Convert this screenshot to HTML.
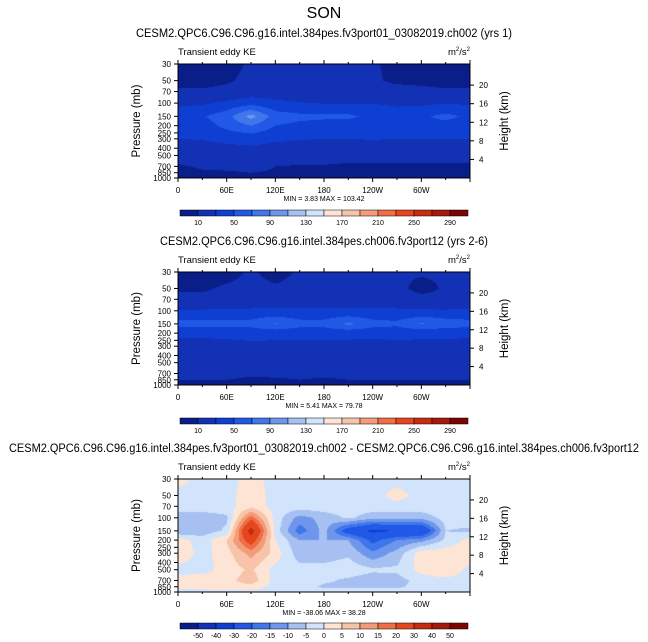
<!DOCTYPE html>
<html><head><meta charset="utf-8">
<style>
body{margin:0;background:#fff;width:648px;height:642px;overflow:hidden;font-family:"Liberation Sans",sans-serif}
svg{position:absolute;left:0;top:0}
</style></head>
<body>
<svg id="s" width="648" height="642"></svg>
<script>
const lons=[0,30,60,90,120,150,180,210,240,270,300,330,360];
const pres=[30,50,70,100,150,200,300,500,700,850,1000];
const keLevels=[10,30,50,70,90,110,130,150,170,190,210,230,250,270,290];
const keTicks=["10","50","90","130","170","210","250","290"];
const diffLevels=[-50,-40,-30,-20,-15,-10,-5,0,5,10,15,20,30,40,50];
const diffTicks=["-50","-40","-30","-20","-15","-10","-5","0","5","10","15","20","30","40","50"];
const colors=["#0a1e8a","#1231b4","#0f3fd2","#2159e6","#3f76ea","#6d96ec","#a6c0f1","#d2e4fb","#fde4d4","#f8c4a9","#f39c79","#ee6f46","#e6461e","#c72b10","#a51a0a","#7d0303"];
const field1=[
[5,5,5,12,12,12,14,12,12,5,5,5,5],
[5,5,8,14,15,15,16,14,14,5,5,5,5],
[12,12,14,18,20,20,20,20,20,20,15,12,12],
[26,27,34,42,34,31,29,29,29,27,26,29,27],
[40,48,62,98,60,55,54,54,45,38,46,56,45],
[38,40,56,70,50,45,42,40,40,35,46,42,40],
[30,31,35,37,33,31,30,30,31,30,30,30,30],
[14,16,18,20,18,16,16,14,14,14,14,14,14],
[9,11,12,13,10,9,9,8,8,8,8,8,8],
[8,9,9,10,9,8,8,8,8,8,8,8,8],
[6,6,6,6,6,6,6,6,6,6,6,6,6]];
const field2=[
[5,5,5,12,5,12,12,12,12,12,12,12,12],
[8,8,12,14,12,14,14,14,14,14,5,12,14],
[14,14,16,18,18,18,18,18,18,18,15,14,16],
[32,32,32,33,33,33,33,33,33,33,32,32,32],
[58,58,58,58,72,58,58,74,58,55,72,62,58],
[35,35,35,36,36,36,36,36,36,36,35,35,35],
[22,22,24,26,25,25,24,24,22,25,24,24,22],
[14,14,14,14,14,14,14,14,14,14,14,14,14],
[12,12,12,11,12,12,12,12,12,12,12,12,12],
[10,10,10,9,9,10,9,10,10,10,10,10,10],
[6,6,6,6,6,6,6,6,6,6,6,6,6]];
const field3=[
[2,-2,-2,2,-2,-2,-2,-2,-2,-2,-2,-2,-2],
[-2,-2,-2,3,-2,-2,-2,-2,-2,2,-2,-2,-2],
[-2,-2,-2,3,-2,-2,-2,-2,-2,-2,-2,-2,-2],
[-8,-8,-6,18,-2,-12,-8,-4,-8,-8,-8,-3,-2],
[-10,-8,-4,35,-2,-18,-8,-25,-32,-30,-30,-5,-6],
[3,-3,5,25,0,-10,-10,-10,-22,-15,-12,-4,2],
[4,-2,3,12,3,-8,-8,-6,-14,-8,3,3,4],
[-2,-2,2,6,-2,-3,-3,-2,-4,-4,2,5,-2],
[2,3,3,8,-2,-2,-4,-6,-8,-7,-3,-2,-2],
[2,2,3,3,-2,-2,-6,-6,-6,-6,-3,-2,-2],
[-2,-2,-2,-2,-2,-2,-2,-2,-2,-2,-2,-2,-2]];
const pTicks=[30,50,70,100,150,200,250,300,400,500,700,850,1000];
const hTicks=[4,8,12,16,20];
const lonTicks=[0,60,120,180,240,300];
const lonLabels=["0","60E","120E","180","120W","60W"];

const NS="http://www.w3.org/2000/svg";
const svg=document.getElementById('s');
const X0=178,X1=470;
function xS(l){return X0+(l/360)*(X1-X0);}
function mk(t,a,txt){const e=document.createElementNS(NS,t);for(const k in a)e.setAttribute(k,a[k]);if(txt!==undefined)e.textContent=txt;svg.appendChild(e);return e;}
function txt(x,y,s,size,anchor,name,extra){const e=mk('text',Object.assign({x:x,y:y,'font-size':size,'text-anchor':anchor||'start','font-family':'Liberation Sans, sans-serif'},extra||{}),s);


return e;}

function panel(top,bot,field,levels,ticks,title,tLen,minmax,cbY,pn){
  const yS=p=>top+Math.log(p/30)/Math.log(1000/30)*(bot-top);
  const H=bot-top,W=X1-X0;
  const cv=document.createElement('canvas');cv.width=W;cv.height=H;
  const ctx=cv.getContext('2d');const img=ctx.createImageData(W,H);
  const lp=pres.map(p=>yS(p)-top);
  const rgb=colors.map(c=>[parseInt(c.slice(1,3),16),parseInt(c.slice(3,5),16),parseInt(c.slice(5,7),16)]);
  for(let j=0;j<H;j++){
    const yy=j+0.5;let r=0;while(r<pres.length-2&&lp[r+1]<yy)r++;
    let ty=(yy-lp[r])/(lp[r+1]-lp[r]);ty=Math.max(0,Math.min(1,ty));
    for(let i=0;i<W;i++){
      const lon=(i+0.5)/W*360;let c=Math.min(11,Math.floor(lon/30));const tx=(lon-lons[c])/30;
      const v=(field[r][c]*(1-tx)+field[r][c+1]*tx)*(1-ty)+(field[r+1][c]*(1-tx)+field[r+1][c+1]*tx)*ty;
      let k=0;while(k<levels.length&&v>=levels[k])k++;
      const o=(j*W+i)*4;img.data[o]=rgb[k][0];img.data[o+1]=rgb[k][1];img.data[o+2]=rgb[k][2];img.data[o+3]=255;}
  }
  ctx.putImageData(img,0,0);
  const im=mk('image',{x:X0,y:top,width:W,height:H,href:cv.toDataURL()});
  
  
  const fr=mk('rect',{x:X0,y:top,width:W,height:H,fill:'none',stroke:'#000','stroke-width':1});
  
  
  txt(324,top-27,title,11.5,'middle','panel-title-'+pn,{textLength:tLen,lengthAdjust:'spacingAndGlyphs'});
  txt(X0,top-9,'Transient eddy KE',9.5,'start','panel-subtitle-'+pn);
  const u=txt(X1,top-9,'m',9.5,'end','units-label-'+pn);
  u.innerHTML='m<tspan font-size="6" dy="-4">2</tspan><tspan dy="4">/s</tspan><tspan font-size="6" dy="-4">2</tspan>';
  pTicks.forEach(p=>{const y=yS(p);mk('line',{x1:X0-4,x2:X0,y1:y,y2:y,stroke:'#000'});
    txt(X0-7,y+3,String(p),8,'end','pressure-tick-label');});
  hTicks.forEach(h=>{const p=1000*Math.exp(-h/7);const y=yS(p);mk('line',{x1:X1,x2:X1+4,y1:y,y2:y,stroke:'#000'});
    txt(X1+9,y+3,String(h),8,'start','height-tick-label');});
  for(let l=0;l<=360;l+=30){const x=xS(l);const len=l%60==0?4:2;
    mk('line',{x1:x,x2:x,y1:bot,y2:bot+len,stroke:'#000'});mk('line',{x1:x,x2:x,y1:top,y2:top-len,stroke:'#000'});}
  lonTicks.forEach((l,i)=>txt(xS(l),bot+15,lonLabels[i],8,'middle','lon-tick-label'));
  txt(324,bot+23,minmax,7,'middle','min-max-label-'+pn);
  const yc=(top+bot)/2;
  txt(140,yc,'Pressure (mb)',11.5,'middle','y-axis-title-'+pn,{transform:'rotate(-90 140 '+yc+')'});
  txt(508,yc,'Height (km)',11.5,'middle','right-axis-title-'+pn,{transform:'rotate(-90 508 '+yc+')'});
  const bw=288/16;
  colors.forEach((c,i)=>{const b=mk('rect',{x:180+i*bw,y:cbY,width:bw,height:6,fill:c,stroke:'#000','stroke-width':0.5});
    
    });
  const step=ticks.length<levels.length?2:1;
  ticks.forEach((t,i)=>txt(180+bw*(1+i*step),cbY+15,t,7,'middle','colorbar-label'));
}
txt(324,18,'SON',16,'middle','main-title');
panel(64,178,field1,keLevels,keTicks,'CESM2.QPC6.C96.C96.g16.intel.384pes.fv3port01_03082019.ch002 (yrs 1)',376,'MIN =   3.83  MAX = 103.42',210,'top');
panel(272,385,field2,keLevels,keTicks,'CESM2.QPC6.C96.C96.g16.intel.384pes.ch006.fv3port12 (yrs 2-6)',328,'MIN =   5.41  MAX = 79.78',418,'middle');
panel(479,592,field3,diffLevels,diffTicks,'CESM2.QPC6.C96.C96.g16.intel.384pes.fv3port01_03082019.ch002 - CESM2.QPC6.C96.C96.g16.intel.384pes.ch006.fv3port12',630,'MIN = -38.06  MAX = 38.28',623,'diff');
</script>
</body></html>
